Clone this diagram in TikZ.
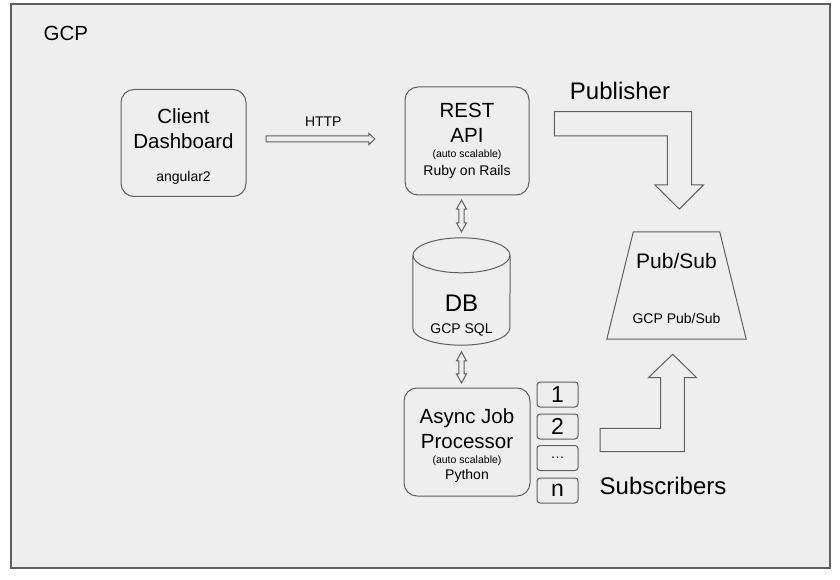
\documentclass[tikz,border=0pt]{standalone}
\usepackage{fontspec}
\setmainfont{Liberation Sans}
\usetikzlibrary{positioning, calc}
\definecolor{gcpgray}{HTML}{EEEEEE}
\definecolor{linegray}{HTML}{5F5F5F}

\newcommand{\smalltext}{\fontsize{14}{16}\selectfont}
\newcommand{\tinytext}{\fontsize{10.5}{12}\selectfont}

\begin{document}
\begin{tikzpicture}[x=1pt, y=1pt,
                    service_box/.style={rectangle, draw=linegray, line width=1pt, fill=gcpgray, align=center, rounded corners=13pt, minimum width=125pt, minimum height=107pt, inner sep=2pt, font=\fontsize{20.5}{24.5}\selectfont},
                    worker_box/.style={rectangle, draw=linegray, line width=1pt, fill=gcpgray, rounded corners=3pt, minimum width=41pt, minimum height=25pt, inner sep=0pt, font=\fontsize{23}{26}\selectfont},
                    block_arrow/.style={draw=linegray, line width=1pt, fill=gcpgray, line join=miter},
                    shape_line/.style={draw=linegray, line width=1pt},
                    big_label/.style={inner sep=0pt, font=\fontsize{24}{28}\selectfont},
                    ]

    \useasboundingbox (0,0) rectangle (840,579);

    % GCP frame
    \draw[draw=linegray, line width=1.5pt, fill=gcpgray] (11,11) rectangle (830,575);
    \node[inner sep=0pt, font=\fontsize{20.5}{24}\selectfont] (gcp) at (65.8,546) {GCP};

    % Services
    \node[service_box] (client) at (183.5,436) {\rule{0pt}{22pt}Client\\Dashboard\\[9pt]{\smalltext angular2}};
    \node[service_box, minimum width=124pt, minimum height=108pt] (rest) at (467,438) {REST\\API\\[-9pt]{\tinytext (auto scalable)}\\[-7pt]{\smalltext Ruby on Rails}};
    \node[service_box, minimum width=126pt, minimum height=108pt] (async) at (467,137) {\rule{0pt}{21.5pt}Async Job\\Processor\\[-9.5pt]{\tinytext (auto scalable)}\\[-8.5pt]{\smalltext Python}};

    % Database
    \node[rectangle, minimum width=97pt, minimum height=107pt, inner sep=0pt] (db) at (461.5,287.5) {};
    \fill[gcpgray] ($(db.north west)+(0,-17.5)$) rectangle ($(db.south east)+(0,17)$);
    \fill[gcpgray] ($(db.south)+(0,17)$) ellipse [x radius=48.5, y radius=17];
    \draw[shape_line] ($(db.north west)+(0,-17.5)$) -- ($(db.south west)+(0,17)$) arc[start angle=180, end angle=360, x radius=48.5, y radius=17] -- ($(db.north east)+(0,-17.5)$);
    \draw[shape_line, fill=gcpgray] ($(db.north)+(0,-17.5)$) ellipse [x radius=48.5, y radius=17.5];
    \node[align=center, big_label] (db_label) at (461.5,263.5) {DB\\[-6.3pt]{\smalltext GCP SQL}};

    % Workers
    \foreach \i/\lbl/\yy in {1/1/184.5, 2/2/152.5, 3/{\smalltext\ldots}/121, 4/n/88.5}
        \node[worker_box] (worker\i) at (557.5,\yy) {\lbl};

    % Pub/Sub
    \node[rectangle, minimum width=139pt, minimum height=107pt, inner sep=0pt, align=center, font=\fontsize{21}{24.5}\selectfont] (pubsub) at (676.5,293.5) {\rule{0pt}{21.5pt}Pub/Sub\\[30pt]{\smalltext GCP Pub/Sub}};
    \draw[shape_line] ($(pubsub.north west)+(26.5,0)$) -- ($(pubsub.north east)+(-26.5,0)$) -- (pubsub.south east) -- (pubsub.south west) -- cycle;

    % Labels
    \node[inner sep=0pt, font=\smalltext] (http) at (323.3,457.3) {HTTP};
    \node[big_label] (publisher) at (620,487.7) {Publisher};
    \node[big_label] (subscribers) at (663,92.7) {Subscribers};

    % Client to REST
    \draw[block_arrow] ($(client.east)+(19.7,7)$) -- ++(102.6,0) -- ++(0,2.7) -- ++(6,-5.7) -- ++(-6,-5.7) -- ++(0,2.7) -- ++(-102.6,0) -- cycle;

    % REST <-> DB <-> Async
    \draw[block_arrow] ($(db.north)+(0,6)$) -- ++(5,9) -- ++(-2.3,0) -- ++(0,13.7) -- ++(2.3,0) -- ++(-5,9) -- ++(-5,-9) -- ++(2.3,0) -- ++(0,-13.7) -- ++(-2.3,0) -- cycle;
    \draw[block_arrow] ($(db.south)+(0,-6.7)$) -- ++(5,-9) -- ++(-2.3,0) -- ++(0,-13) -- ++(2.3,0) -- ++(-5,-9) -- ++(-5,9) -- ++(2.3,0) -- ++(0,13) -- ++(-2.3,0) -- cycle;

    % Publisher and subscriber arrows
    \draw[block_arrow] (554.3,467.3) -- (691.7,467.3) -- (691.7,394) -- (703.3,394) -- (679.3,370) -- (655,394) -- (667.3,394) -- (667.3,443) -- (554.3,443) -- cycle;
    \draw[block_arrow] (672.7,224.7) -- (696.7,201.3) -- (684.3,201.3) -- (684.3,127.3) -- (600,127.3) -- (600,150.7) -- (660.7,150.7) -- (660.7,201.3) -- (648.3,201.3) -- cycle;

\end{tikzpicture}
\end{document}
